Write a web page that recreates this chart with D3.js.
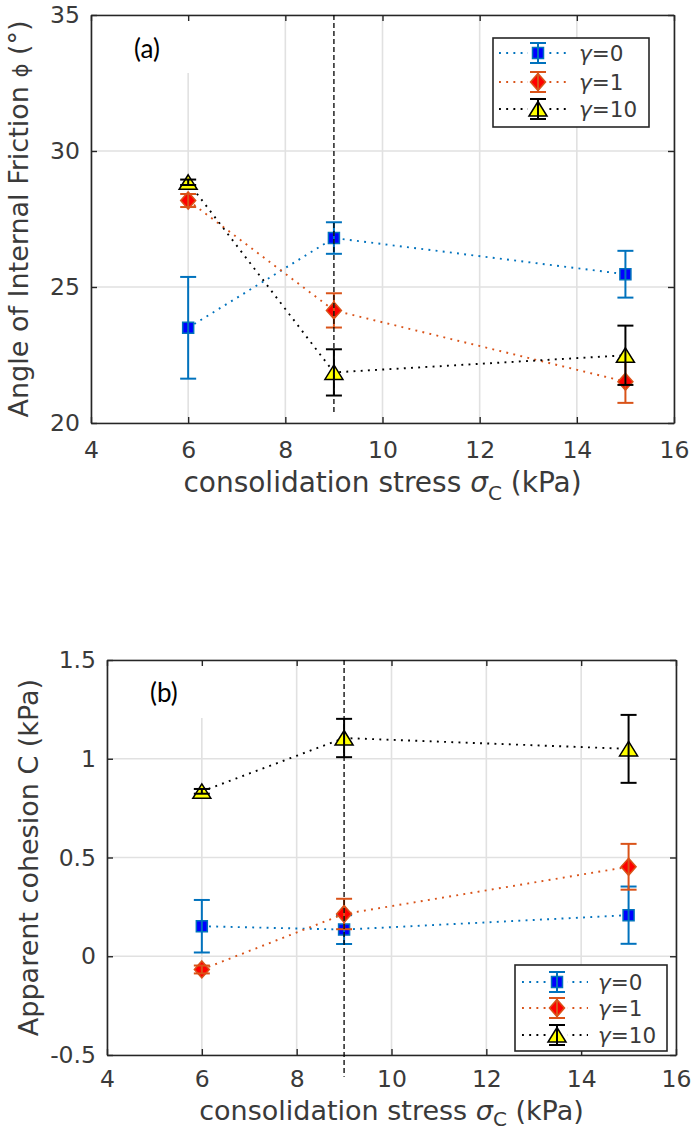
<!DOCTYPE html>
<html><head><meta charset="utf-8">
<script src="https://cdn.jsdelivr.net/npm/d3@7"></script>
<style>body{margin:0;background:#fff} svg{display:block}</style>
</head><body><svg id="c" width="700" height="1131"></svg>
<script>
// ---------- data ----------
const xValues = [6, 9, 15];
const seriesLabels = ["γ=0", "γ=1", "γ=10"];
const xTicks = [4, 6, 8, 10, 12, 14, 16];
const xTickLabels = ["4", "6", "8", "10", "12", "14", "16"];

const phiTicks = [20, 25, 30, 35];
const phiTickLabels = ["20", "25", "30", "35"];
const phiGamma0 = [23.5, 26.8, 25.47];
const phiGamma0Err = [1.87, 0.58, 0.86];
const phiGamma1 = [28.18, 24.14, 21.52];
const phiGamma1Err = [0.24, 0.63, 0.78];
const phiGamma10 = [28.85, 21.86, 22.49];
const phiGamma10Err = [0.1, 0.85, 1.09];

const cohTicks = [-0.5, 0, 0.5, 1, 1.5];
const cohTickLabels = ["-0.5", "0", "0.5", "1", "1.5"];
const cohGamma0 = [0.152, 0.135, 0.208];
const cohGamma0Err = [0.133, 0.073, 0.145];
const cohGamma1 = [-0.067, 0.214, 0.453];
const cohGamma1Err = [0.02, 0.077, 0.116];
const cohGamma10 = [0.835, 1.105, 1.05];
const cohGamma10Err = [0.012, 0.097, 0.172];

const refLineX = 9;

// ---------- styles ----------
const seriesStyles = [
  {line: "#0072BD", fill: "#0000FF", stroke: "#0072BD", shape: "square"},
  {line: "#D95319", fill: "#FF0000", stroke: "#D95319", shape: "diamond"},
  {line: "#000000", fill: "#FFFF00", stroke: "#000000", shape: "triangle"}
];
const axisColor = "#262626";
const textColor = "#3a3a3a";
const gridColor = "#e1e1e1";
const FONT = "'DejaVu Sans', sans-serif";

function markerPath(shape) {
  if (shape === "square") return "M-5.5,-5.5H5.5V5.5H-5.5Z";
  if (shape === "diamond") return "M0,-8.5L7.5,0L0,8.5L-7.5,0Z";
  return "M0,-7.5L9,7H-9Z";
}

const svg = d3.select("#c");

const panels = [
  {
    left: 91, right: 674, top: 15, bottom: 423,
    yDomain: [20, 35], yTicks: phiTicks, yTickLabels: phiTickLabels,
    series: [
      {values: phiGamma0, errors: phiGamma0Err},
      {values: phiGamma1, errors: phiGamma1Err},
      {values: phiGamma10, errors: phiGamma10Err}
    ],
    refLine: [35, 20.3],
    cover: {x1: 115, x2: 250, y2: 73},
    tag: "(a)", tagX: 134, tagY: 58,
    legend: {x: 493, y: 38, w: 156, h: 89, rows: [15, 44, 71], lx1: 6, lx2: 75, mx: 45, tx: 86},
    xPad: 18,
    xlabelY: 492, xlabelSize: 28, subDy: 8,
    ylabelX: 28,
    ylabel: "phi"
  },
  {
    left: 107, right: 676, top: 660, bottom: 1055,
    yDomain: [-0.5, 1.5], yTicks: cohTicks, yTickLabels: cohTickLabels,
    series: [
      {values: cohGamma0, errors: cohGamma0Err},
      {values: cohGamma1, errors: cohGamma1Err},
      {values: cohGamma10, errors: cohGamma10Err}
    ],
    refLine: [1.5, -0.61],
    cover: {x1: 125, x2: 265, y2: 718},
    tag: "(b)", tagX: 150, tagY: 702,
    legend: {x: 515, y: 965, w: 152, h: 86, rows: [17, 43, 70], lx1: 7, lx2: 73, mx: 42, tx: 83},
    xPad: 15.5,
    xlabelY: 1119.5, xlabelSize: 27, subDy: 6.5,
    ylabelX: 38,
    ylabel: "coh"
  }
];

function drawMarkerWithBar(g, cx, cy, yTop, yBot, st, cap) {
  g.append("path").attr("d", markerPath(st.shape))
    .attr("transform", `translate(${cx},${cy})`)
    .attr("fill", st.fill).attr("stroke", st.stroke).attr("stroke-width", 1.5);
  g.append("line").attr("x1", cx).attr("x2", cx).attr("y1", yTop).attr("y2", yBot)
    .attr("stroke", st.line).attr("stroke-width", 2);
  [yTop, yBot].forEach(yy => g.append("line")
    .attr("x1", cx - cap).attr("x2", cx + cap).attr("y1", yy).attr("y2", yy)
    .attr("stroke", st.line).attr("stroke-width", 2));
}

function styleAxis(sel, fontSize) {
  sel.select(".domain").attr("stroke", axisColor).attr("stroke-width", 1.6);
  sel.selectAll(".tick line").attr("stroke", axisColor).attr("stroke-width", 1.4);
  sel.selectAll(".tick text").attr("fill", textColor).attr("font-size", fontSize)
    .attr("font-family", FONT);
  sel.attr("font-family", FONT);
}

panels.forEach(p => {
  const x = d3.scaleLinear().domain([4, 16]).range([p.left, p.right]);
  const y = d3.scaleLinear().domain(p.yDomain).range([p.bottom, p.top]);
  const g = svg.append("g");

  // grid
  g.append("g").selectAll("line").data(xTicks).join("line")
    .attr("x1", d => x(d)).attr("x2", d => x(d)).attr("y1", p.top).attr("y2", p.bottom)
    .attr("stroke", gridColor).attr("stroke-width", 1.6);
  g.append("g").selectAll("line").data(p.yTicks).join("line")
    .attr("y1", d => y(d)).attr("y2", d => y(d)).attr("x1", p.left).attr("x2", p.right)
    .attr("stroke", gridColor).attr("stroke-width", 1.6);

  // white cover behind panel tag
  g.append("rect").attr("x", p.cover.x1).attr("y", p.top + 1.5)
    .attr("width", p.cover.x2 - p.cover.x1).attr("height", p.cover.y2 - p.top - 1.5)
    .attr("fill", "#fff");

  // axes
  const ab = g.append("g").attr("transform", `translate(0,${p.bottom})`)
    .call(d3.axisBottom(x).tickValues(xTicks).tickSizeInner(-6).tickSizeOuter(0)
      .tickPadding(p.xPad).tickFormat((d, i) => xTickLabels[i]));
  styleAxis(ab, 23.5);
  const at = g.append("g").attr("transform", `translate(0,${p.top})`)
    .call(d3.axisTop(x).tickValues(xTicks).tickSizeInner(-6).tickSizeOuter(0).tickFormat(() => ""));
  styleAxis(at, 23.5);
  const al = g.append("g").attr("transform", `translate(${p.left},0)`)
    .call(d3.axisLeft(y).tickValues(p.yTicks).tickSizeInner(-6).tickSizeOuter(0)
      .tickPadding(11).tickFormat((d, i) => p.yTickLabels[i]));
  styleAxis(al, 23.5);
  const ar = g.append("g").attr("transform", `translate(${p.right},0)`)
    .call(d3.axisRight(y).tickValues(p.yTicks).tickSizeInner(-6).tickSizeOuter(0).tickFormat(() => ""));
  styleAxis(ar, 23.5);

  // series
  const line = d3.line().x(d => x(d.x)).y(d => y(d.y));
  p.series.forEach((s, i) => {
    const st = seriesStyles[i];
    const pts = xValues.map((xv, j) => ({x: xv, y: s.values[j], e: s.errors[j]}));
    g.append("path").datum(pts).attr("d", line).attr("fill", "none")
      .attr("stroke", st.line).attr("stroke-width", 1.9)
      .attr("stroke-dasharray", "1.9,5.3");
    pts.forEach(d => drawMarkerWithBar(g, x(d.x), y(d.y), y(d.y + d.e), y(d.y - d.e), st, 8));
  });

  // reference dashed line
  g.append("line").attr("x1", x(refLineX)).attr("x2", x(refLineX))
    .attr("y1", y(p.refLine[0])).attr("y2", y(p.refLine[1]))
    .attr("stroke", "#000").attr("stroke-width", 1.3).attr("stroke-dasharray", "5,3");

  // legend
  const L = p.legend;
  const lg = g.append("g").attr("transform", `translate(${L.x},${L.y})`);
  lg.append("rect").attr("width", L.w).attr("height", L.h).attr("fill", "#fff")
    .attr("stroke", axisColor).attr("stroke-width", 1.6);
  seriesLabels.forEach((lab, i) => {
    const st = seriesStyles[i];
    const ry = L.rows[i];
    lg.append("line").attr("x1", L.lx1).attr("x2", L.lx2).attr("y1", ry).attr("y2", ry)
      .attr("stroke", st.line).attr("stroke-width", 1.9).attr("stroke-dasharray", "1.9,5.3");
    lg.append("rect").attr("x", L.mx - 10).attr("y", ry - 10).attr("width", 20).attr("height", 20)
      .attr("fill", "#fff");
    drawMarkerWithBar(lg, L.mx, ry, ry - 10, ry + 10, st, 8);
    const t = lg.append("text").attr("x", L.tx).attr("y", ry).attr("dy", "0.36em")
      .attr("font-family", FONT).attr("font-size", 21.5).attr("fill", textColor);
    t.append("tspan").text(lab.slice(0, 1)).attr("font-style", "italic");
    t.append("tspan").text(lab.slice(1));
  });

  // panel tag
  g.append("text").attr("x", p.tagX).attr("y", p.tagY).text(p.tag)
    .attr("font-family", "Lato, 'Open Sans', sans-serif").attr("font-size", 26).attr("fill", "#000");

  // x label
  const cx = (p.left + p.right) / 2;
  const xl = g.append("text").attr("x", cx).attr("y", p.xlabelY).attr("text-anchor", "middle")
    .attr("font-family", FONT).attr("font-size", p.xlabelSize).attr("fill", textColor);
  xl.append("tspan").text("consolidation stress ");
  xl.append("tspan").text("σ").attr("font-style", "italic");
  xl.append("tspan").text("C").attr("font-size", 20).attr("dy", p.subDy);
  xl.append("tspan").text(" (kPa)").attr("dy", -p.subDy);

  // y label
  const cy = (p.top + p.bottom) / 2;
  const yl = g.append("text").attr("transform", `translate(${p.ylabelX},${cy}) rotate(-90)`)
    .attr("text-anchor", "middle").attr("font-family", FONT).attr("font-size", 27)
    .attr("fill", textColor);
  if (p.ylabel === "phi") {
    yl.append("tspan").text("Angle of Internal Friction ");
    yl.append("tspan").text("ϕ").attr("font-size", 21);
    yl.append("tspan").text(" (°)");
  } else {
    yl.append("tspan").text("Apparent cohesion C  (kPa)");
  }
});
</script>
</body></html>
